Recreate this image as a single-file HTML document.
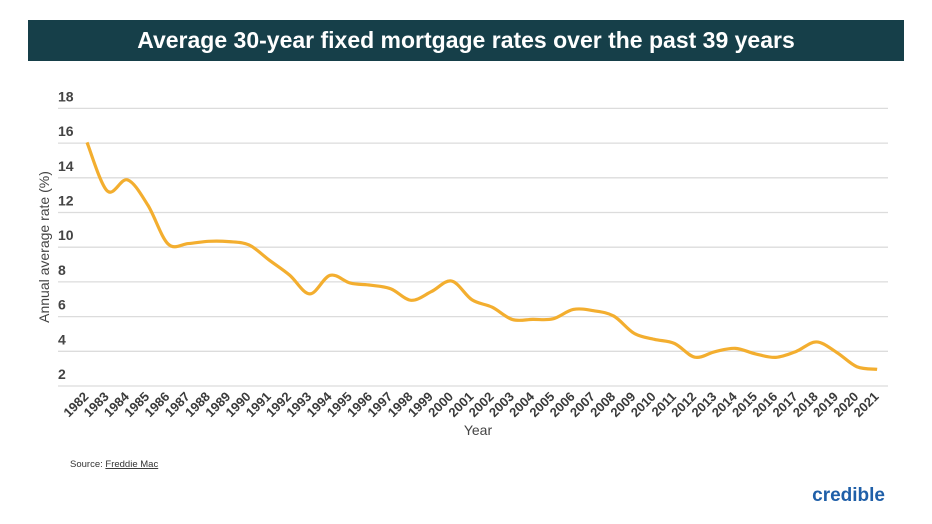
<!DOCTYPE html>
<html><head><meta charset="utf-8"><style>
body{margin:0;width:932px;height:524px;background:#fff;overflow:hidden;font-family:"Liberation Sans",sans-serif}
#t{position:absolute;left:28px;top:20px;width:876px;height:41px;background:#163f49;color:#fff;font-weight:bold;font-size:23px;text-align:center;line-height:41px}
</style></head><body>
<div id="t">Average 30-year fixed mortgage rates over the past 39 years</div>
<svg id="s" width="932" height="524" style="position:absolute;left:0;top:0"></svg>
<script>
var v=[16.04,13.24,13.88,12.43,10.19,10.21,10.34,10.32,10.13,9.25,8.39,7.31,8.38,7.93,7.81,7.60,6.94,7.44,8.05,6.97,6.54,5.83,5.84,5.87,6.41,6.34,6.03,5.04,4.69,4.45,3.66,3.98,4.17,3.85,3.65,3.99,4.54,3.94,3.11,2.96];
function Y(a){return 386-(a-2)*17.35}function X(i){return 87+i*20.26}
var h='';
for(var g=2;g<=18;g+=2){var y=Y(g);h+='<line x1="58" x2="888" y1="'+y+'" y2="'+y+'" stroke="#dcdcdc" stroke-width="1.3"/>';h+='<text x="58" y="'+(y-7)+'" font-size="14" font-weight="bold" fill="#444">'+g+'</text>';}
var p=v.map(function(a,i){return [X(i),Y(a)]});
var d='M'+p[0][0]+','+p[0][1];
for(var i=0;i<p.length-1;i++){var p0=p[Math.max(i-1,0)],p1=p[i],p2=p[i+1],p3=p[Math.min(i+2,p.length-1)];
d+=' C'+(p1[0]+(p2[0]-p0[0])/6)+','+(p1[1]+(p2[1]-p0[1])/6)+' '+(p2[0]-(p3[0]-p1[0])/6)+','+(p2[1]-(p3[1]-p1[1])/6)+' '+p2[0]+','+p2[1];}
h+='<path d="'+d+'" fill="none" stroke="#f3ae2f" stroke-width="3.2" stroke-linejoin="round"/>';
for(var i=0;i<40;i++){var x=X(i)-4,y=391;h+='<text transform="translate('+x+','+y+') rotate(-45)" text-anchor="end" dy="9" font-size="13" font-weight="bold" fill="#3a3a3a">'+(1982+i)+'</text>';}
h+='<text x="478" y="435" text-anchor="middle" font-size="14" fill="#444">Year</text>';
h+='<text transform="translate(49,247) rotate(-90)" text-anchor="middle" font-size="14" fill="#444">Annual average rate (%)</text>';
h+='<text x="70" y="467" font-size="9.5" fill="#333">Source: <tspan text-decoration="underline">Freddie Mac</tspan></text>';
h+='<text x="885" y="501" text-anchor="end" font-size="19" font-weight="bold" fill="#1f5fa8">credible</text>';
document.getElementById('s').innerHTML=h;
</script>
</body></html>
